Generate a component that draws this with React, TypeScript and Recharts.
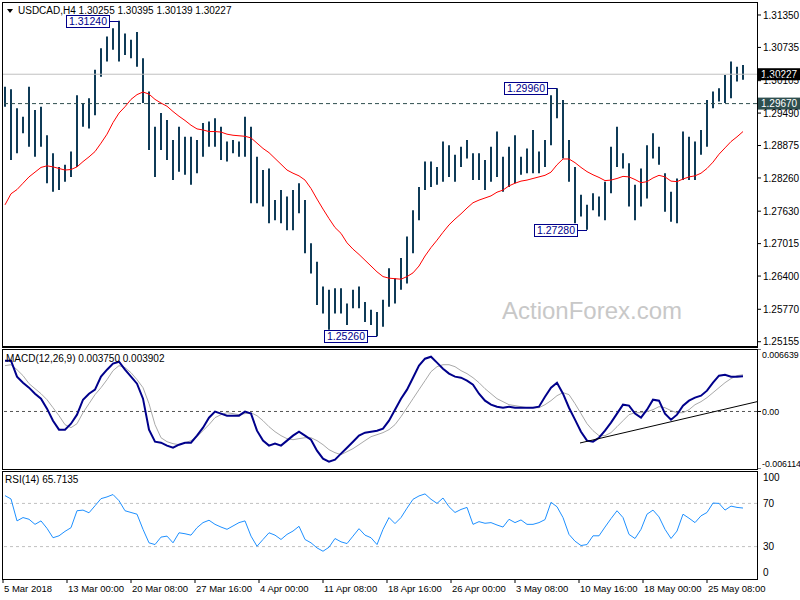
import React from 'react';
import { ComposedChart, Line, Bar, XAxis, YAxis, ReferenceLine, ReferenceDot } from 'recharts';

const FONT = "'Liberation Sans', Arial, sans-serif";

// One entry per group of three H4 bars
const barHigh = [
  1.2999, 1.2994, 1.2958, 1.2942, 1.2999, 1.2955, 1.2961, 1.2907, 1.2873, 1.2847,
  1.2851, 1.2876, 1.2983, 1.2968, 1.2977, 1.3031, 1.3072, 1.3094, 1.3110, 1.3124,
  1.3100, 1.3088, 1.3103, 1.3053, 1.2990, 1.2923, 1.2949, 1.2936, 1.2898, 1.2923,
  1.2904, 1.2904, 1.2898, 1.2930, 1.2933, 1.2939, 1.2923, 1.2895, 1.2898, 1.2895,
  1.2942, 1.2923, 1.2866, 1.2841, 1.2844, 1.2784, 1.2803, 1.2791, 1.2803, 1.2816,
  1.2784, 1.2702, 1.2667, 1.2620, 1.2614, 1.2617, 1.2617, 1.2588, 1.2614, 1.2620,
  1.2591, 1.2576, 1.2572, 1.2595, 1.2655, 1.2636, 1.2674, 1.2715, 1.2765, 1.2809,
  1.2857, 1.2857, 1.2847, 1.2895, 1.2888, 1.2870, 1.2885, 1.2898, 1.2873, 1.2873,
  1.2860, 1.2885, 1.2914, 1.2866, 1.2885, 1.2907, 1.2866, 1.2882, 1.2917, 1.2876,
  1.2898, 1.2983, 1.2996, 1.2974, 1.2898, 1.2847, 1.2794, 1.2775, 1.2797, 1.2791,
  1.2819, 1.2885, 1.2923, 1.2873, 1.2854, 1.2813, 1.2844, 1.2888, 1.2911, 1.2885,
  1.2835, 1.2800, 1.2825, 1.2914, 1.2904, 1.2895, 1.2917, 1.2974, 1.2990, 1.2996,
  1.3021, 1.3047, 1.3037, 1.3040,
];

const barLow = [
  1.2961, 1.2860, 1.2873, 1.2911, 1.2885, 1.2866, 1.2885, 1.2816, 1.2800, 1.2803,
  1.2819, 1.2828, 1.2847, 1.2923, 1.2920, 1.2945, 1.3018, 1.3047, 1.3069, 1.3047,
  1.3059, 1.3053, 1.3037, 1.2968, 1.2879, 1.2828, 1.2879, 1.2860, 1.2822, 1.2838,
  1.2832, 1.2813, 1.2835, 1.2866, 1.2885, 1.2885, 1.2860, 1.2857, 1.2873, 1.2866,
  1.2866, 1.2778, 1.2778, 1.2772, 1.2740, 1.2746, 1.2740, 1.2727, 1.2727, 1.2759,
  1.2683, 1.2645, 1.2585, 1.2569, 1.2538, 1.2569, 1.2569, 1.2547, 1.2579, 1.2579,
  1.2553, 1.2547, 1.2526, 1.2544, 1.2582, 1.2588, 1.2614, 1.2626, 1.2683, 1.2746,
  1.2803, 1.2809, 1.2813, 1.2819, 1.2828, 1.2819, 1.2847, 1.2863, 1.2822, 1.2822,
  1.2803, 1.2819, 1.2828, 1.2800, 1.2809, 1.2816, 1.2832, 1.2835, 1.2835, 1.2835,
  1.2847, 1.2888, 1.2939, 1.2863, 1.2819, 1.2740, 1.2753, 1.2728, 1.2765, 1.2753,
  1.2746, 1.2797, 1.2847, 1.2844, 1.2772, 1.2746, 1.2772, 1.2787, 1.2863, 1.2851,
  1.2762, 1.2743, 1.2740, 1.2822, 1.2822, 1.2822, 1.2870, 1.2885, 1.2958, 1.2971,
  1.2968, 1.2977, 1.3009, 1.3012,
];

const movingAvg = [
  1.2775, 1.2796, 1.2804, 1.2816, 1.2828, 1.2837, 1.2846, 1.2849, 1.2847, 1.2844,
  1.2841, 1.2842, 1.2847, 1.2857, 1.2866, 1.2876, 1.2892, 1.2909, 1.2931, 1.2949,
  1.2961, 1.2975, 1.2984, 1.2989, 1.2985, 1.2975, 1.2968, 1.2962, 1.2952, 1.2943,
  1.2935, 1.2926, 1.2919, 1.2917, 1.2914, 1.2914, 1.2913, 1.2909, 1.2907, 1.2906,
  1.2905, 1.2902, 1.2892, 1.2882, 1.2874, 1.2863, 1.2852, 1.2841, 1.2835, 1.2830,
  1.2822, 1.2806, 1.2786, 1.2767, 1.2749, 1.2732, 1.2721, 1.2703, 1.2691, 1.2681,
  1.2670, 1.2659, 1.2648, 1.2639, 1.2636, 1.2635, 1.2634, 1.2639, 1.2646, 1.2659,
  1.2678, 1.2694, 1.2708, 1.2723, 1.2737, 1.2748, 1.2758, 1.2769, 1.2779, 1.2784,
  1.2788, 1.2792, 1.2799, 1.2803, 1.2811, 1.2816, 1.2820, 1.2822, 1.2825, 1.2828,
  1.2831, 1.2837, 1.2851, 1.2862, 1.2862, 1.2855, 1.2846, 1.2838, 1.2832, 1.2827,
  1.2821, 1.2822, 1.2825, 1.2829, 1.2828, 1.2823, 1.2817, 1.2819, 1.2826, 1.2831,
  1.2828, 1.2820, 1.2819, 1.2824, 1.2828, 1.2830, 1.2835, 1.2844, 1.2856, 1.2871,
  1.2883, 1.2895, 1.2904, 1.2914,
];

const macdMain = [
  0.0054, 0.0054, 0.0037, 0.00306, 0.00253, 0.00189, 0.00136, 0.0003, -0.00098, -0.00193,
  -0.00193, -0.0013, -0.00034, 0.00125, 0.00189, 0.00232, 0.0037, 0.00444, 0.00508, 0.00529,
  0.00444, 0.0037, 0.00295, 0.00136, -0.00193, -0.00321, -0.00332, -0.00363, -0.00385, -0.00353,
  -0.00332, -0.00332, -0.00257, -0.00172, -0.00066, -0.00002, -0.00023, -0.00045, -0.00045, -0.00045,
  -0.00002, -0.00023, -0.00204, -0.0031, -0.00363, -0.00342, -0.00363, -0.0031, -0.00257, -0.00215,
  -0.00257, -0.003, -0.00417, -0.00502, -0.00533, -0.00512, -0.00448, -0.00385, -0.00321, -0.00257,
  -0.00225, -0.00215, -0.00204, -0.00183, -0.00098, 0.00019, 0.00136, 0.00232, 0.00359, 0.00487,
  0.00561, 0.00582, 0.00519, 0.00455, 0.00402, 0.0037, 0.00359, 0.00327, 0.00285, 0.00189,
  0.00115, 0.00072, 0.00051, 0.0004, 0.00051, 0.0004, 0.0004, 0.0004, 0.0004, 0.00051,
  0.00157, 0.00253, 0.00306, 0.00189, 0.0004, -0.00087, -0.00215, -0.0031, -0.00321, -0.00279,
  -0.00204, -0.00119, -0.00023, 0.00072, 0.00062, -0.00023, -0.00066, 0.00019, 0.00125, 0.00115,
  -0.00023, -0.00087, -0.00034, 0.00062, 0.00115, 0.00147, 0.00168, 0.00221, 0.00306, 0.0038,
  0.00391, 0.0037, 0.0037, 0.00375,
];

const macdSignal = [
  0.00487, 0.00497, 0.00444, 0.00381, 0.00296, 0.00242, 0.00189, 0.00125, 0.0004, -0.00045,
  -0.0014, -0.00172, -0.0013, -0.00013, 0.00083, 0.00179, 0.00253, 0.00338, 0.00434, 0.00487,
  0.00466, 0.00412, 0.00338, 0.00253, 0.00083, -0.0014, -0.00279, -0.00321, -0.00342, -0.00353,
  -0.00332, -0.0031, -0.00268, -0.00204, -0.0014, -0.00066, -0.00034, -0.00013, -0.00023, -0.00034,
  -0.00023, -0.00013, -0.00045, -0.00098, -0.00162, -0.00215, -0.00257, -0.00289, -0.003, -0.00289,
  -0.00279, -0.00279, -0.0031, -0.00353, -0.00406, -0.00438, -0.00459, -0.00427, -0.00395, -0.00353,
  -0.0031, -0.00268, -0.00247, -0.00225, -0.00193, -0.0014, -0.00055, 0.0004, 0.00136, 0.00232,
  0.00327, 0.00423, 0.00476, 0.00497, 0.00497, 0.00476, 0.00434, 0.00402, 0.00359, 0.00306,
  0.00242, 0.00189, 0.00136, 0.00104, 0.00072, 0.00062, 0.00051, 0.0004, 0.0004, 0.0004,
  0.00072, 0.00115, 0.00168, 0.002, 0.00179, 0.00083, -0.00023, -0.0013, -0.00204, -0.00257,
  -0.00257, -0.00225, -0.00162, -0.00098, -0.00034, -0.00013, -0.00013, -0.00002, 0.00019, 0.00051,
  0.0004, 0.00009, -0.00013, -0.00013, 0.00019, 0.00072, 0.00104, 0.00147, 0.002, 0.00253,
  0.00306, 0.00349, 0.00381, 0.0039,
];

const rsiValues = [
  77.2, 74.1, 53.8, 56.9, 55.3, 50.6, 53.8, 46.9, 38.2, 40.0,
  44.1, 47.5, 63.2, 63.8, 61.3, 67.8, 74.4, 76.0, 78.2, 72.5,
  63.2, 61.6, 60.0, 46.0, 33.5, 31.9, 38.8, 39.7, 33.5, 42.8,
  41.9, 40.6, 47.5, 52.2, 54.4, 50.6, 48.1, 46.0, 49.1, 52.2,
  53.8, 39.7, 30.3, 36.6, 42.8, 40.6, 36.6, 41.3, 44.4, 48.8,
  36.6, 33.5, 28.8, 25.7, 29.4, 37.5, 34.4, 32.8, 39.7, 46.6,
  40.6, 38.2, 31.9, 46.0, 56.9, 51.3, 56.9, 65.6, 73.8, 76.9,
  78.8, 73.8, 70.0, 75.0, 66.9, 61.6, 64.4, 66.3, 50.6, 53.1,
  51.6, 52.2, 50.0, 48.1, 55.3, 52.2, 54.7, 50.6, 50.6, 52.2,
  55.0, 71.0, 66.9, 56.9, 41.3, 35.0, 31.0, 31.9, 40.0, 40.0,
  48.1, 55.9, 63.2, 56.9, 41.3, 37.5, 46.0, 60.0, 63.8, 57.5,
  46.0, 37.5, 44.4, 60.0, 56.3, 52.2, 58.5, 61.6, 70.3, 70.0,
  63.8, 67.5, 66.3, 65.7,
];

// x positions measured in H4-bar units
const xTickPos = [0, 32, 64, 96, 128, 160, 192, 224, 256, 288, 320, 352];
const xTickLabels = [
  '5 Mar 2018', '13 Mar 00:00', '20 Mar 08:00', '27 Mar 16:00', '4 Apr 00:00', '11 Apr 08:00',
  '18 Apr 16:00', '26 Apr 00:00', '3 May 08:00', '10 May 16:00', '18 May 00:00', '25 May 08:00',
];
const priceTicks = [1.3135, 1.30735, 1.30105, 1.2949, 1.28875, 1.2826, 1.2763, 1.27015, 1.264, 1.2577, 1.25155];
const macdTicks = [0.006639, 0, -0.006114];
const rsiTicks = [100, 70, 30, 0];
const callouts = [
  { group: 19, price: 1.3124, label: '1.31240' },
  { group: 62, price: 1.2526, label: '1.25260' },
  { group: 92, price: 1.2996, label: '1.29960' },
  { group: 97, price: 1.2728, label: '1.27280' },
];
const trendLine = [
  { k: 288.5, v: -0.00335 },
  { k: 377, v: 0.00104 },
];
const lastPrice = 1.30227;
const levelPrice = 1.2967;

const X_DOMAIN: [number, number] = [-0.5, 377];
const groupToK = (g: number) => 1 + 3 * g;

const data = barHigh.map((h, i) => ({
  k: groupToK(i),
  hl: [barLow[i], h],
  ma: movingAvg[i],
  macd: macdMain[i],
  signal: macdSignal[i],
  rsi: rsiValues[i],
}));

const PriceTag = (props: any) => {
  const { viewBox, text, bg } = props;
  if (!viewBox) return null;
  const x = viewBox.x + viewBox.width;
  const y = viewBox.y;
  return (
    <g>
      <rect x={x + 1} y={y - 6} width={42} height={12} fill={bg} />
      <text x={x + 4} y={y} dy="0.36em" fontSize={10} fontFamily={FONT} fill="#fff">{text}</text>
    </g>
  );
};

const Callout = (props: any) => {
  const { cx, cy, label } = props;
  if (cx == null || cy == null) return null;
  const bx = Math.round(cx) - 10 - 43;
  const yy = Math.round(cy) + 0.5;
  return (
    <g>
      <line x1={cx} y1={yy} x2={bx + 43} y2={yy} stroke="#00008b" strokeWidth={1} />
      <rect x={bx + 0.5} y={yy - 6} width={43} height={12} fill="#fff" stroke="#00008b" strokeWidth={1} />
      <text x={bx + 22} y={yy} dy="0.36em" textAnchor="middle" fontSize={10.5} fontFamily={FONT} fill="#00008b">{label}</text>
    </g>
  );
};

const MacdTick = (props: any) => {
  const { x, y, payload } = props;
  const v = payload.value;
  let dy = 0;
  if (v > 0.006) dy = 6;
  if (v < -0.006) dy = -5;
  const label = v === 0 ? '0.00' : v.toFixed(6);
  return (
    <text x={x - 1} y={y + dy} dy="0.36em" fontSize={8.8} fontFamily={FONT} fill="#000">{label}</text>
  );
};

const RsiTick = (props: any) => {
  const { x, y, payload } = props;
  const v = payload.value;
  let dy = 0;
  if (v === 100) dy = 6;
  if (v === 0) dy = -7;
  return (
    <text x={x} y={y + dy} dy="0.36em" fontSize={10} fontFamily={FONT} fill="#000">{String(v)}</text>
  );
};

const XTick = (props: any) => {
  const { x, y, payload } = props;
  const idx = xTickPos.indexOf(payload.value);
  return (
    <text x={x + 1} y={y} dy="0.71em" fontSize={9.5} fontFamily={FONT} fill="#000" textAnchor="start">
      {idx >= 0 ? xTickLabels[idx] : ''}
    </text>
  );
};

export default function App() {
  return (
    <div style={{ position: 'absolute', left: 0, top: 0, width: 800, height: 600, background: '#fff', overflow: 'hidden' }}>
      {/* Price panel */}
      <div style={{ position: 'absolute', left: 0, top: 2, width: 800, height: 345 }}>
        <ComposedChart width={800} height={345} data={data} margin={{ top: 0, right: 0, bottom: 0, left: 2 }}>
          <XAxis type="number" dataKey="k" domain={X_DOMAIN} hide allowDataOverflow />
          <YAxis
            orientation="right"
            domain={[1.250546, 1.315965]}
            allowDataOverflow
            ticks={priceTicks}
            interval={0}
            width={43}
            axisLine={false}
            tickSize={4}
            tickMargin={2}
            tickLine={{ stroke: '#000' }}
            tick={{ fontSize: 10, fill: '#000', fontFamily: FONT }}
            tickFormatter={(v: number) => v.toFixed(5)}
          />
          <ReferenceLine y={lastPrice} stroke="#c0c0c0" label={<PriceTag text="1.30227" bg="#000" />} />
          <ReferenceLine y={levelPrice} stroke="#2f4f4f" strokeDasharray="4 3" label={<PriceTag text="1.29670" bg="#2f4f4f" />} />
          <Bar dataKey="hl" barSize={2} fill="#0f3b57" isAnimationActive={false} />
          <Line dataKey="ma" stroke="#ff0000" strokeWidth={1} dot={false} type="linear" isAnimationActive={false} />
          {callouts.map((c) => (
            <ReferenceDot
              key={c.label}
              x={groupToK(c.group)}
              y={c.price}
              r={0}
              shape={(p: any) => <Callout {...p} label={c.label} />}
            />
          ))}
        </ComposedChart>
      </div>

      {/* MACD panel */}
      <div style={{ position: 'absolute', left: 0, top: 349, width: 800, height: 120 }}>
        <ComposedChart width={800} height={120} data={data} margin={{ top: 0, right: 0, bottom: 0, left: 2 }}>
          <XAxis type="number" dataKey="k" domain={X_DOMAIN} hide allowDataOverflow />
          <YAxis
            orientation="right"
            domain={[-0.006114, 0.006639]}
            allowDataOverflow
            ticks={macdTicks}
            interval={0}
            width={43}
            axisLine={false}
            tickSize={4}
            tickMargin={2}
            tickLine={{ stroke: '#000' }}
            tick={<MacdTick />}
          />
          <ReferenceLine y={0} stroke="#555" strokeDasharray="3 3" />
          <Line dataKey="signal" stroke="#a9a9a9" strokeWidth={1} dot={false} isAnimationActive={false} />
          <Line dataKey="macd" stroke="#00008b" strokeWidth={2} dot={false} isAnimationActive={false} />
          <ReferenceLine
            segment={trendLine.map((p) => ({ x: p.k, y: p.v }))}
            stroke="#000"
            strokeWidth={1}
            ifOverflow="visible"
          />
        </ComposedChart>
      </div>

      {/* RSI panel */}
      <div style={{ position: 'absolute', left: 0, top: 471, width: 800, height: 130 }}>
        <ComposedChart width={800} height={130} data={data} margin={{ top: 0, right: 0, bottom: 0, left: 2 }}>
          <XAxis
            type="number"
            dataKey="k"
            domain={X_DOMAIN}
            allowDataOverflow
            ticks={xTickPos}
            interval={0}
            height={22}
            axisLine={false}
            tickSize={4}
            tickMargin={2}
            tickLine={{ stroke: '#000' }}
            tick={<XTick />}
          />
          <YAxis
            orientation="right"
            domain={[0, 100]}
            ticks={rsiTicks}
            interval={0}
            width={43}
            axisLine={false}
            tickSize={4}
            tickMargin={2}
            tickLine={false}
            tick={<RsiTick />}
          />
          <ReferenceLine y={70} stroke="#c0c0c0" strokeDasharray="3 3" />
          <ReferenceLine y={30} stroke="#c0c0c0" strokeDasharray="3 3" />
          <Line dataKey="rsi" stroke="#1e90ff" strokeWidth={1} dot={false} isAnimationActive={false} />
        </ComposedChart>
      </div>

      {/* Frames and labels */}
      <svg width={800} height={600} style={{ position: 'absolute', left: 0, top: 0, pointerEvents: 'none' }}>
        <rect x={2.5} y={2.5} width={755} height={344} fill="none" stroke="#000" />
        <line x1={2} y1={347.5} x2={758} y2={347.5} stroke="#000" />
        <rect x={2.5} y={349.5} width={755} height={120} fill="none" stroke="#000" />
        <rect x={2.5} y={471.5} width={755} height={108} fill="none" stroke="#000" />
        <polygon points="7,9 13,9 10,13" fill="#000" />
        <text x={18} y={14} fontSize={10} fontFamily={FONT} fill="#000">USDCAD,H4  1.30255 1.30395 1.30139 1.30227</text>
        <text x={6} y={362} fontSize={10} fontFamily={FONT} fill="#000">MACD(12,26,9) 0.003750 0.003902</text>
        <text x={5} y={483} fontSize={10} fontFamily={FONT} fill="#000">RSI(14) 65.7135</text>
        <text x={502} y={319} fontSize={24} fontFamily={FONT} fill="#c8c8c8">ActionForex.com</text>
      </svg>
    </div>
  );
}
